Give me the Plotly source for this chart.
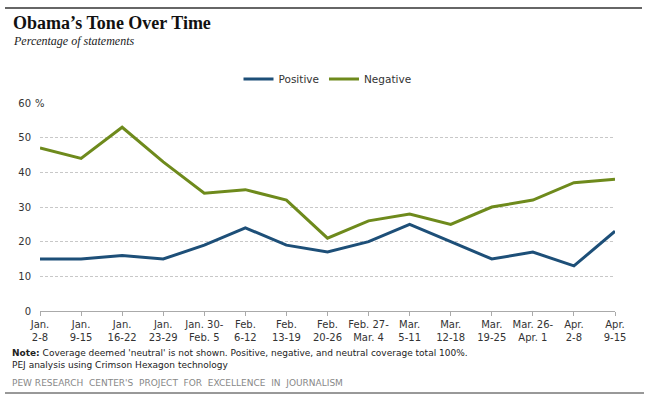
import plotly.graph_objects as go

categories = ["Jan.<br>2-8", "Jan.<br>9-15", "Jan.<br>16-22", "Jan.<br>23-29", "Jan. 30-<br>Feb. 5",
              "Feb.<br>6-12", "Feb.<br>13-19", "Feb.<br>20-26", "Feb. 27-<br>Mar. 4", "Mar.<br>5-11",
              "Mar.<br>12-18", "Mar.<br>19-25", "Mar. 26-<br>Apr. 1", "Apr.<br>2-8", "Apr.<br>9-15"]
positive = [15, 15, 16, 15, 19, 24, 19, 17, 20, 25, 20, 15, 17, 13, 23]
negative = [47, 44, 53, 43, 34, 35, 32, 21, 26, 28, 25, 30, 32, 37, 38]
ytick_vals = [0, 10, 20, 30, 40, 50, 60]
ytick_text = ["0", "10", "20", "30", "40", "50", "60"]

W, H = 650, 396
L, R, T, B = 40, 35, 103, 85
pw, ph = W - L - R, H - T - B

def px(x):
    return (x - L) / pw

def py(y):
    return (H - B - y) / ph

fig = go.Figure()
fig.add_trace(go.Scatter(x=list(range(len(categories))), y=positive, name="Positive", mode="lines",
                         line=dict(color="#1d4f78", width=3)))
fig.add_trace(go.Scatter(x=list(range(len(categories))), y=negative, name="Negative", mode="lines",
                         line=dict(color="#6e8a1c", width=3)))

font = "DejaVu Sans, Verdana, sans-serif"
fig.update_layout(
    width=W, height=H,
    margin=dict(l=L, r=R, t=T, b=B),
    paper_bgcolor="white", plot_bgcolor="white",
    font=dict(family=font, size=10, color="#333"),
    showlegend=True,
    legend=dict(orientation="h", x=0.5, xanchor="center", y=py(79), yanchor="middle",
                font=dict(size=10.5, color="#333"), itemwidth=30, tracegroupgap=0,
                bgcolor="rgba(0,0,0,0)"),
    xaxis=dict(range=[0, len(categories) - 1], tickmode="array",
               tickvals=list(range(len(categories))), ticktext=categories,
               showgrid=False, zeroline=False, showline=True, linecolor="#aaa", linewidth=1,
               ticks="outside", ticklen=4, tickcolor="#aaa",
               tickfont=dict(size=10, color="#333")),
    yaxis=dict(range=[0, 60], tickmode="array", tickvals=ytick_vals, ticktext=ytick_text,
               showgrid=True, gridcolor="#c8c8c8", griddash="3px,2px", gridwidth=1,
               zeroline=False, showline=False,
               ticks="outside", ticklen=6, tickcolor="rgba(0,0,0,0)",
               tickfont=dict(size=10, color="#333")),
)

fig.add_shape(type="line", xref="paper", yref="paper", x0=px(5), x1=px(642), y0=py(8), y1=py(8),
              line=dict(color="#666", width=2))
fig.add_shape(type="line", xref="paper", yref="paper", x0=px(5), x1=px(644), y0=py(393), y1=py(393),
              line=dict(color="#333", width=1))

anns = [
    dict(x=px(11), y=py(23), text="<b>Obama’s Tone Over Time</b>",
         font=dict(family="Liberation Serif, serif", size=18, color="#111")),
    dict(x=px(11), y=py(41), text="<i>Percentage of statements</i>",
         font=dict(family="Liberation Serif, serif", size=12, color="#222")),
    dict(x=px(33), y=py(103), text="%", font=dict(family=font, size=10, color="#333")),
    dict(x=px(10), y=py(353), text="<b>Note:</b> Coverage deemed 'neutral' is not shown. Positive, negative, and neutral coverage total 100%.",
         font=dict(family=font, size=9, color="#222")),
    dict(x=px(10), y=py(365), text="PEJ analysis using Crimson Hexagon technology",
         font=dict(family=font, size=9, color="#222")),
    dict(x=px(10), y=py(383), text="PEW RESEARCH  CENTER'S  PROJECT  FOR  EXCELLENCE  IN  JOURNALISM",
         font=dict(family=font, size=9, color="#888")),
]
for a in anns:
    fig.add_annotation(xref="paper", yref="paper", xanchor="left", yanchor="middle",
                       showarrow=False, align="left", **a)

fig.write_html("out.html", config={"displayModeBar": False},
               post_script="document.body.style.margin='0';")
